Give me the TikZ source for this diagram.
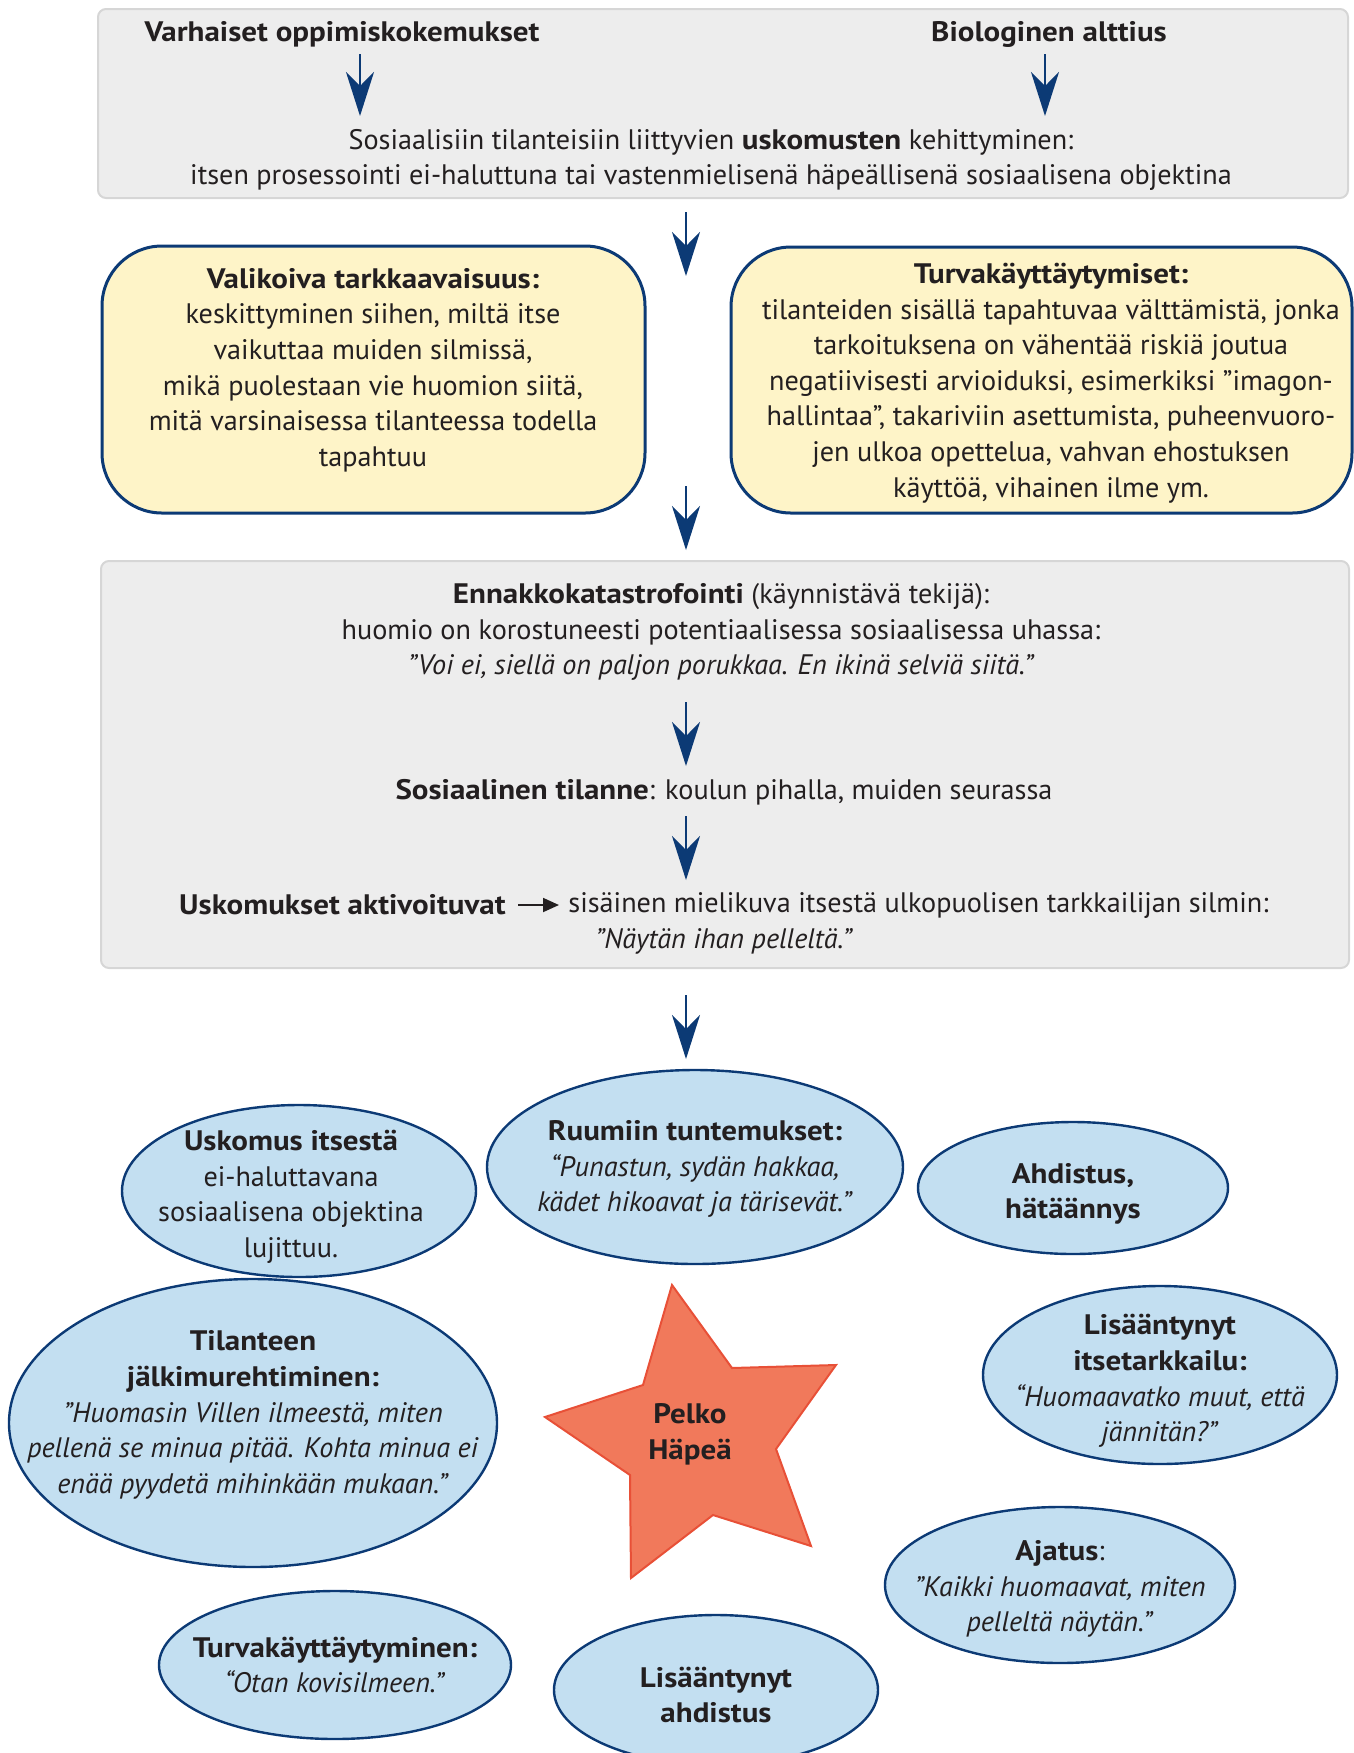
\documentclass[tikz,border=0pt]{standalone}
\usepackage{fontspec}
\setmainfont{PT Sans}[BoldFeatures={FakeStretch=1.1}]
\usetikzlibrary{shapes.geometric,arrows.meta}
\definecolor{navy}{RGB}{12,58,117}
\definecolor{boxgray}{RGB}{237,237,237}
\definecolor{boxline}{RGB}{214,214,214}
\definecolor{paleyellow}{RGB}{254,244,200}
\definecolor{lightblue}{RGB}{195,223,241}
\definecolor{starfill}{RGB}{241,121,91}
\definecolor{starline}{RGB}{232,80,55}
\definecolor{ink}{RGB}{35,31,32}
\newcommand{\txtsize}{\fontsize{14.1}{17.8}\selectfont}
\tikzset{
  graybox/.style={draw=boxline, fill=boxgray, rounded corners=4pt, line width=1pt},
  yellowbox/.style={draw=navy, fill=paleyellow, rounded corners=30pt, line width=1.5pt},
  bubble/.style={ellipse, draw=navy, fill=lightblue, line width=1.2pt},
  flow/.style={draw=navy, line width=1.3pt, -{Stealth[length=22pt,width=14pt,inset=7pt]}},
  smallarrow/.style={draw=ink, line width=0.9pt, -{Triangle[length=8pt,width=7pt]}}
}
\begin{document}
\begin{tikzpicture}[x=0.5pt, y=-0.5pt, every node/.style={text=ink, font=\txtsize, align=center, inner sep=0pt}]
\useasboundingbox (0,0) rectangle (1354,1753);

% boxes
\node[graybox, minimum width=625pt, minimum height=94.5pt] (topbox) at (723,103.5) {};
\node[yellowbox, minimum width=271.5pt, minimum height=133.5pt] (attbox) at (373.5,379.5) {};
\node[yellowbox, minimum width=310.5pt, minimum height=133pt] (safebox) at (1041.5,380) {};
\node[graybox, minimum width=624pt, minimum height=203.5pt] (midbox) at (725,764.5) {};

% top box
\node (varh) at (342,34) {\textbf{Varhaiset oppimiskokemukset}};
\node (bio) at (1049,34) {\textbf{Biologinen alttius}};
\node (beliefs) at (711,160) {Sosiaalisiin tilanteisiin liittyvien \textbf{uskomusten} kehittyminen:\\ itsen prosessointi ei-haluttuna tai vastenmielisenä häpeällisenä sosiaalisena objektina};

% yellow boxes
\node (att) at (373,370) {\textbf{Valikoiva tarkkaavaisuus:}\\ keskittyminen siihen, miltä itse\\ vaikuttaa muiden silmissä,\\ mikä puolestaan vie huomion siitä,\\ mitä varsinaisessa tilanteessa todella\\ tapahtuu};
\node (safe) at (1051,383) {\textbf{Turvakäyttäytymiset:}\\ tilanteiden sisällä tapahtuvaa välttämistä, jonka\\ tarkoituksena on vähentää riskiä joutua\\ negatiivisesti arvioiduksi, esimerkiksi ”imagon-\\ hallintaa”, takariviin asettumista, puheenvuoro-\\ jen ulkoa opettelua, vahvan ehostuksen\\ käyttöä, vihainen ilme ym.};

% middle box
\node (ennakko) at (721,632) {\textbf{Ennakkokatastrofointi} (käynnistävä tekijä):\\ huomio on korostuneesti potentiaalisessa sosiaalisessa uhassa:\\ \textit{”Voi ei, siellä on paljon porukkaa. En ikinä selviä siitä.”}};
\node (tilanne) at (724,792) {\textbf{Sosiaalinen tilanne}: koulun pihalla, muiden seurassa};
\node[anchor=east] (aktiv) at (506,905) {\textbf{Uskomukset aktivoituvat}};
\node[anchor=west] (mielikuva) at (568,905) {sisäinen mielikuva itsestä ulkopuolisen tarkkailijan silmin:};
\node (pelle) at (724,941) {\textit{”Näytän ihan pelleltä.”}};
\draw[smallarrow, shorten <=6pt, shorten >=4.5pt] (aktiv.east) -- (aktiv.east -| mielikuva.west);

% arrows
\coordinate (a1s) at (360,54); \coordinate (a1e) at (360,116);
\coordinate (a2s) at (1045,54); \coordinate (a2e) at (1045,116);
\coordinate (a3s) at (686,212); \coordinate (a3e) at (686,276);
\coordinate (a4s) at (686,486); \coordinate (a4e) at (686,550);
\coordinate (a5s) at (686,702); \coordinate (a5e) at (686,766);
\coordinate (a6s) at (686,816); \coordinate (a6e) at (686,880);
\coordinate (a7s) at (686,995); \coordinate (a7e) at (686,1059);
\draw[flow] (a1s) -- (a1e); \draw[flow] (a2s) -- (a2e);
\draw[flow] (a3s) -- (a3e); \draw[flow] (a4s) -- (a4e);
\draw[flow] (a5s) -- (a5e); \draw[flow] (a6s) -- (a6e);
\draw[flow] (a7s) -- (a7e);

% bubbles
\node[bubble, minimum width=177pt, minimum height=86pt] (selfbel) at (299,1191) {};
\node[bubble, minimum width=208pt, minimum height=97pt] (body) at (695,1167) {};
\node[bubble, minimum width=155pt, minimum height=66pt] (panic) at (1073,1188) {};
\node[bubble, minimum width=244pt, minimum height=144pt] (rumin) at (253,1423) {};
\node[bubble, minimum width=177pt, minimum height=89pt] (monitor) at (1160,1375) {};
\node[bubble, minimum width=175pt, minimum height=78pt] (thought) at (1060,1585) {};
\node[bubble, minimum width=176pt, minimum height=74pt] (safety) at (335,1665) {};
\node[bubble, minimum width=162pt, minimum height=75pt] (anx) at (716,1690) {};

\node (selfbeltxt) at (291,1197) {\textbf{Uskomus itsestä}\\ ei-haluttavana\\ sosiaalisena objektina\\ lujittuu.};
\node (bodytxt) at (695,1169) {\textbf{Ruumiin tuntemukset:}\\ \textit{“Punastun, sydän hakkaa,}\\ \textit{kädet hikoavat ja tärisevät.”}};
\node (panictxt) at (1073,1194) {\textbf{Ahdistus,}\\ \textbf{hätäännys}};
\node (rumintxt) at (253,1415) {\textbf{Tilanteen}\\ \textbf{jälkimurehtiminen:}\\ \textit{”Huomasin Villen ilmeestä, miten}\\ \textit{pellenä se minua pitää. Kohta minua ei}\\ \textit{enää pyydetä mihinkään mukaan.”}};
\node (monitortxt) at (1160,1381) {\textbf{Lisääntynyt}\\ \textbf{itsetarkkailu:}\\ \textit{“Huomaavatko muut, että}\\ \textit{jännitän?”}};
\node (thoughttxt) at (1060,1589) {\textbf{Ajatus}:\\ \textit{”Kaikki huomaavat, miten}\\ \textit{pelleltä näytän.”}};
\node (safetytxt) at (335,1665) {\textbf{Turvakäyttäytyminen:}\\ \textit{“Otan kovisilmeen.”}};
\node (anxtxt) at (716,1695) {\textbf{Lisääntynyt}\\ \textbf{ahdistus}};

% star
\draw[fill=starfill, draw=starline, line width=1pt, line join=miter] (672,1285) -- (732,1368) -- (836,1365) -- (776,1449) -- (811,1546) -- (713,1515) -- (631,1578) -- (630,1475) -- (545,1417) -- (643,1385) -- cycle;
\node (feeling) at (690,1434) {\textbf{Pelko}\\ \textbf{Häpeä}};

\end{tikzpicture}
\end{document}
